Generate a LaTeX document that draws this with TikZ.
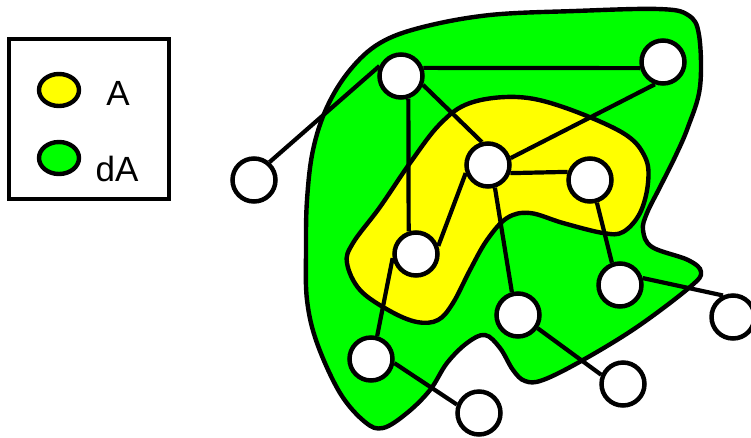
\documentclass[tikz,border=0pt]{standalone}
\usepackage{fontspec}
\setmainfont{Liberation Sans}
\usetikzlibrary{shapes.geometric}
\definecolor{yel}{RGB}{255,255,0}
\definecolor{grn}{RGB}{0,255,0}
\begin{document}
\begin{tikzpicture}[x=1pt,y=-1pt,
  vtx/.style={circle,draw=black,fill=white,line width=4.5pt,minimum size=43pt,inner sep=0pt},
  edge/.style={line width=4.2pt},
  blob/.style={draw=black,line width=4.4pt},
  legell/.style={draw=black,ellipse,line width=4.4pt,minimum width=40pt,minimum height=32pt,inner sep=0pt},
  legtext/.style={font=\fontsize{35}{40}\selectfont,inner sep=0pt}]
\useasboundingbox (0,0) rectangle (751,437);
% green region dA
\draw[blob,fill=grn] plot[smooth cycle,tension=0.6] coordinates {
 (307,200) (313,150) (327,107) (350,70) (380,43) (423,27) (490,15) (575,11)
 (658,9) (688,15) (699,35) (700,87) (688,127) (675,157) (660,187) (647,213)
 (643,230) (652,247) (688,260) (701,272) (690,287) (637,327) (583,360)
 (543,380) (525,381) (513,370) (500,348) (485,335) (467,343) (447,363)
 (430,390) (407,413) (383,428) (365,422) (340,393) (317,343) (307,300) (306,250)};
% yellow region A
\draw[blob,fill=yel] plot[smooth cycle,tension=0.6] coordinates {
 (470,103) (517,97) (563,107) (623,133) (645,157) (648,183) (640,213)
 (623,232) (603,233) (563,223) (530,213) (507,218) (487,240) (470,270)
 (453,303) (438,320) (417,322) (390,311) (360,290) (347,263) (353,243)
 (380,207) (410,163) (440,124)};
% legend
\draw[line width=4.4pt] (9,39) rectangle (169,199);
\node[legell,fill=yel] (la) at (59,90) {};
\node[legell,fill=grn] (lb) at (59,158) {};
\node[legtext] (ta) at (118,93.5) {A};
\node[legtext] (tb) at (117,168.5) {dA};
% vertices
\node[vtx] (n1) at (401,76) {};
\node[vtx] (n2) at (663,62) {};
\node[vtx] (n3) at (488,165) {};
\node[vtx] (n4) at (590,180) {};
\node[vtx] (n5) at (254,180) {};
\node[vtx] (n6) at (416,254) {};
\node[vtx] (n7) at (371,359) {};
\node[vtx] (n8) at (479,413) {};
\node[vtx] (n9) at (518,315) {};
\node[vtx] (n10) at (620,285) {};
\node[vtx] (n11) at (733,317) {};
\node[vtx] (n12) at (623,384) {};
% edges
\draw[edge] (n1.20) -- (n2.195);
\draw[edge] (n5.49) -- (n1.155);
\draw[edge] (n1.-72) -- (n6.108);
\draw[edge] (n1.-22) -- (n3.105);
\draw[edge] (n3.17) -- (n2.-110);
\draw[edge] (n3.-20) -- (n4.160);
\draw[edge] (n3.200) -- (n6.20);
\draw[edge] (n3.-73) -- (n9.105);
\draw[edge] (n4.-73) -- (n10.110);
\draw[edge] (n10.17) -- (n11.115);
\draw[edge] (n6.190) -- (n7.75);
\draw[edge] (n7.-10) -- (n8.159);
\draw[edge] (n9.-34) -- (n12.157);
\end{tikzpicture}
\end{document}
